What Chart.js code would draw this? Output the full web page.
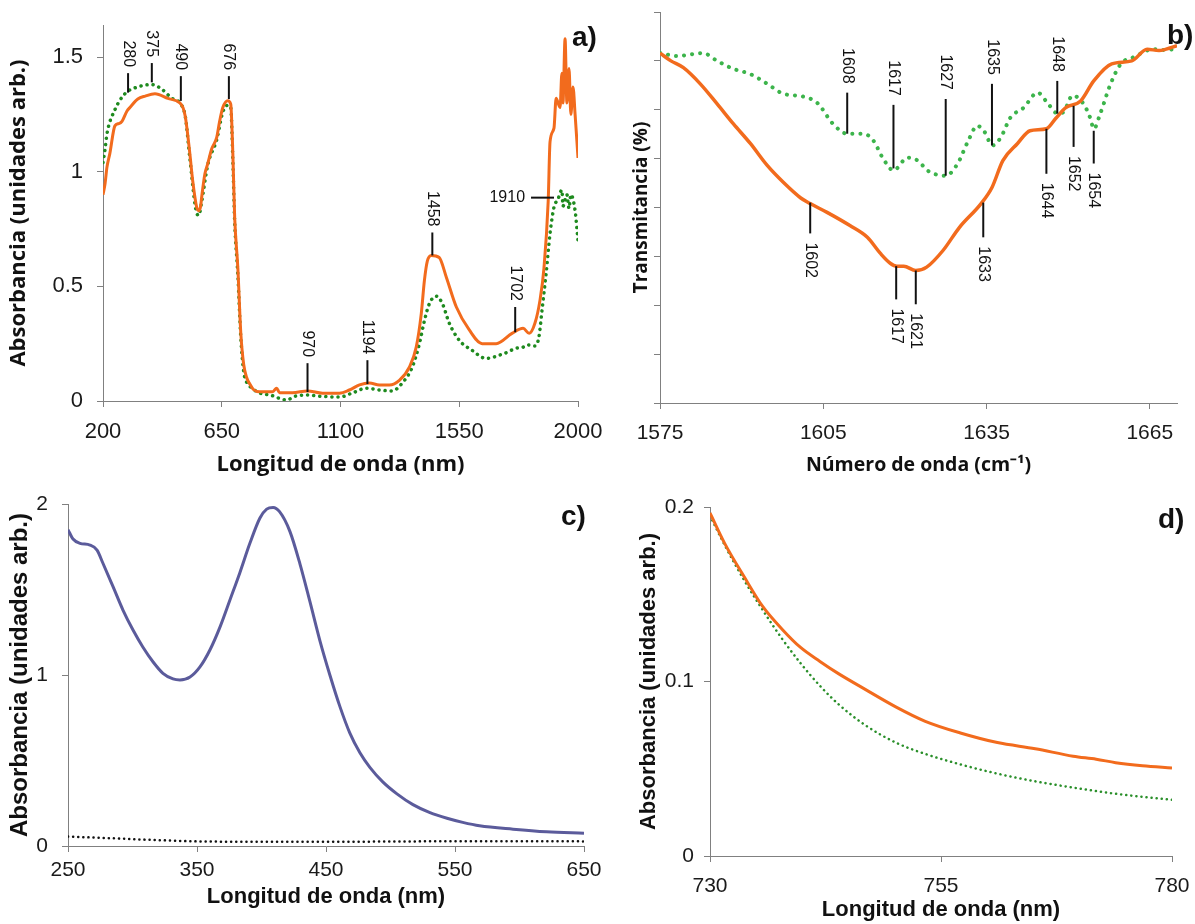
<!DOCTYPE html>
<html>
<head>
<meta charset="utf-8">
<script src="https://cdn.jsdelivr.net/npm/chart.js@4.4.1/dist/chart.umd.min.js"></script>
<style>
  body { margin: 0; background: #fff; width: 1195px; height: 924px; position: relative; overflow: hidden; }
  canvas { position: absolute; }
</style>
</head>
<body>
<canvas id="pa" width="615" height="478" style="left:0;top:0"></canvas>
<canvas id="pb" width="595" height="478" style="left:600px;top:0"></canvas>
<canvas id="pc" width="615" height="444" style="left:0;top:480px"></canvas>
<canvas id="pd" width="595" height="444" style="left:600px;top:480px"></canvas>
<script>
// ---- panel a) UV-Vis-NIR absorbance ----
const aTicksX = [200, 650, 1100, 1550, 2000];
const aTicksY = [0, 0.5, 1, 1.5];
const aOrangeX = [200, 208, 215, 226, 245, 260, 272, 291, 302, 332, 360, 397, 446, 491, 503, 512, 518, 529, 540, 555, 563, 570, 574, 586, 597, 612, 631, 642, 654, 673, 684, 692, 699, 711, 722, 733, 745, 756, 770, 794, 843, 858, 869, 918, 975, 1032, 1096, 1134, 1172, 1210, 1247, 1285, 1323, 1361, 1387, 1406, 1418, 1429, 1444, 1474, 1501, 1539, 1588, 1637, 1648, 1690, 1750, 1792, 1815, 1837, 1856, 1871, 1887, 1894, 1909, 1917, 1932, 1939, 1943, 1951, 1958, 1966, 1973, 1981, 1989, 2000];
const aOrangeY = [0.90, 0.95, 1.02, 1.08, 1.20, 1.21, 1.22, 1.265, 1.28, 1.317, 1.33, 1.34, 1.32, 1.30, 1.28, 1.24, 1.19, 1.08, 0.96, 0.845, 0.83, 0.85, 0.89, 0.99, 1.035, 1.10, 1.15, 1.22, 1.28, 1.31, 1.295, 1.08, 0.80, 0.58, 0.30, 0.16, 0.10, 0.075, 0.05, 0.04, 0.04, 0.056, 0.036, 0.036, 0.044, 0.034, 0.034, 0.048, 0.07, 0.078, 0.07, 0.07, 0.09, 0.148, 0.235, 0.38, 0.526, 0.61, 0.635, 0.626, 0.54, 0.41, 0.31, 0.25, 0.25, 0.25, 0.295, 0.317, 0.295, 0.34, 0.44, 0.58, 0.87, 1.13, 1.19, 1.32, 1.28, 1.43, 1.30, 1.58, 1.30, 1.45, 1.25, 1.37, 1.25, 1.06];
const aGreenX = [200, 208, 215, 245, 283, 332, 385, 423, 461, 491, 512, 529, 555, 563, 574, 597, 631, 654, 673, 684, 692, 699, 711, 722, 733, 745, 760, 794, 832, 858, 870, 900, 920, 971, 1032, 1096, 1145, 1198, 1247, 1296, 1334, 1372, 1399, 1418, 1437, 1463, 1486, 1512, 1550, 1600, 1650, 1720, 1766, 1792, 1807, 1837, 1852, 1864, 1879, 1894, 1909, 1924, 1939, 1943, 1958, 1966, 1973, 1989, 2000];
const aGreenY = [1.04, 1.10, 1.165, 1.27, 1.34, 1.37, 1.38, 1.36, 1.32, 1.30, 1.24, 1.06, 0.82, 0.81, 0.87, 1.03, 1.14, 1.26, 1.29, 1.28, 1.05, 0.78, 0.55, 0.28, 0.13, 0.08, 0.06, 0.035, 0.026, 0.017, 0.01, 0.005, 0.018, 0.026, 0.02, 0.017, 0.035, 0.056, 0.048, 0.044, 0.078, 0.148, 0.25, 0.35, 0.425, 0.457, 0.425, 0.34, 0.265, 0.22, 0.186, 0.207, 0.23, 0.235, 0.245, 0.24, 0.28, 0.40, 0.555, 0.73, 0.845, 0.88, 0.92, 0.85, 0.90, 0.84, 0.90, 0.83, 0.70];
const aPeaks = [
  { t: '280', x: 295, y1: 1.43, y2: 1.345, up: true },
  { t: '375', x: 385, y1: 1.474, y2: 1.39, up: true },
  { t: '490', x: 495, y1: 1.417, y2: 1.309, up: true },
  { t: '676', x: 677, y1: 1.417, y2: 1.317, up: true },
  { t: '970', x: 975, y1: 0.165, y2: 0.039, up: true },
  { t: '1194', x: 1202, y1: 0.178, y2: 0.074, up: true },
  { t: '1458', x: 1448, y1: 0.735, y2: 0.635, up: true },
  { t: '1702', x: 1762, y1: 0.41, y2: 0.30, up: true },
  { t: '1910', flat: true, x1: 1822, x2: 1909, y1: 0.887 }
];

// ---- panel b) FTIR transmittance ----
const bTicksX = [1575, 1605, 1635, 1665];
const bTicksY = [0, 1, 2, 3, 4, 5, 6, 7, 8];
const bOrangeX = [1575, 1577, 1579.3, 1582.4, 1585.5, 1588.5, 1591.6, 1594.7, 1597.7, 1600.8, 1602.6, 1605.7, 1609.9, 1613.1, 1615.5, 1617.3, 1618.5, 1619.8, 1622, 1624, 1627, 1630, 1634, 1636, 1638, 1640.7, 1643, 1646, 1647.7, 1649.5, 1652.3, 1654.7, 1658, 1661.7, 1664.5, 1666.7, 1668, 1670];
const bOrangeY = [7.16, 7.0, 6.86, 6.53, 6.12, 5.71, 5.31, 4.86, 4.51, 4.20, 4.08, 3.90, 3.63, 3.39, 3.06, 2.86, 2.80, 2.80, 2.71, 2.78, 3.12, 3.59, 4.08, 4.41, 4.96, 5.31, 5.57, 5.61, 5.82, 6.04, 6.18, 6.59, 6.94, 7.0, 7.24, 7.21, 7.24, 7.31];
const bGreenX = [1575, 1578.1, 1582.9, 1585.5, 1588.4, 1591.6, 1594.7, 1597.6, 1601.3, 1603.9, 1606.8, 1609.4, 1612.4, 1614.2, 1616.0, 1617.9, 1620.5, 1622.5, 1624.1, 1627.5, 1629.7, 1631.5, 1633.3, 1634.5, 1636.1, 1637.6, 1639.4, 1641.8, 1644.4, 1646.2, 1648.1, 1649.2, 1650.8, 1652.7, 1654.1, 1654.7, 1655.9, 1657.8, 1659.7, 1662.1, 1665.7, 1668.3, 1670];
const bGreenY = [7.16, 7.10, 7.16, 7.0, 6.84, 6.73, 6.53, 6.33, 6.27, 6.14, 5.71, 5.51, 5.51, 5.37, 5.0, 4.76, 5.02, 4.95, 4.76, 4.65, 4.9, 5.33, 5.67, 5.57, 5.27, 5.43, 5.84, 6.04, 6.35, 6.14, 5.92, 5.96, 6.29, 6.14, 5.82, 5.61, 5.92, 6.53, 6.94, 7.08, 7.24, 7.22, 7.27];
const bPeaks = [
  { t: '1608', x: 1609.4, y1: 6.35, y2: 5.51, up: true },
  { t: '1617', x: 1617.9, y1: 6.10, y2: 4.80, up: true },
  { t: '1627', x: 1627.5, y1: 6.22, y2: 4.65, up: true },
  { t: '1635', x: 1636, y1: 6.53, y2: 5.27, up: true },
  { t: '1648', x: 1648, y1: 6.59, y2: 5.92, up: true },
  { t: '1644', x: 1646, y1: 5.61, y2: 4.69, up: false },
  { t: '1652', x: 1651, y1: 6.08, y2: 5.24, up: false },
  { t: '1654', x: 1654.7, y1: 5.57, y2: 4.90, up: false },
  { t: '1602', x: 1602.6, y1: 4.10, y2: 3.47, up: false },
  { t: '1633', x: 1634.4, y1: 4.10, y2: 3.39, up: false },
  { t: '1617', x: 1618.4, y1: 2.80, y2: 2.12, up: false },
  { t: '1621', x: 1622, y1: 2.71, y2: 2.02, up: false }
];

// ---- panel c) UV-Vis absorbance ----
const cTicksX = [250, 350, 450, 550, 650];
const cTicksY = [0, 1, 2];
const cPurpleX = [250, 253.9, 259.3, 267, 272.5, 277, 285, 292.6, 300.4, 308, 316, 323.6, 331.4, 336.8, 344.6, 352.3, 360, 367.8, 375.6, 383.3, 391, 398.8, 404, 409, 414, 422, 429.8, 437.5, 445.3, 453, 460.8, 468.5, 476.3, 484, 494, 505, 517.4, 530.6, 543.8, 556, 569, 595, 621, 650];
const cPurpleY = [1.85, 1.795, 1.77, 1.76, 1.73, 1.655, 1.515, 1.38, 1.263, 1.164, 1.076, 1.01, 0.977, 0.971, 0.988, 1.047, 1.146, 1.28, 1.44, 1.60, 1.77, 1.918, 1.97, 1.98, 1.955, 1.84, 1.65, 1.43, 1.20, 1.0, 0.815, 0.66, 0.545, 0.46, 0.375, 0.305, 0.242, 0.195, 0.162, 0.138, 0.118, 0.098, 0.083, 0.075];
const cBlackX = [250, 275, 300, 325, 350, 400, 450, 500, 550, 600, 650];
const cBlackY = [0.055, 0.048, 0.04, 0.033, 0.027, 0.025, 0.025, 0.026, 0.028, 0.028, 0.027];

// ---- panel d) absorbance 730-780 nm ----
const dTicksX = [730, 755, 780];
const dTicksY = [0, 0.1, 0.2];
const dOrangeX = [730, 731.6, 733.7, 735.7, 737.8, 739.8, 741.9, 743.9, 746.8, 750.1, 753.3, 757.1, 761.1, 765.2, 769.3, 771.8, 773.9, 776.8, 780];
const dOrangeY = [0.1966, 0.179, 0.16, 0.143, 0.13, 0.1195, 0.1115, 0.1045, 0.0955, 0.0855, 0.0772, 0.0705, 0.065, 0.0615, 0.0572, 0.0555, 0.0535, 0.0517, 0.0504];
const dGreenX = [730, 731.6, 733.7, 735.7, 737.8, 739.8, 741.9, 743.9, 746.8, 750.1, 753.3, 757.1, 761.1, 765.2, 769.3, 773.4, 777.5, 780];
const dGreenY = [0.195, 0.178, 0.158, 0.141, 0.1245, 0.1105, 0.0975, 0.087, 0.075, 0.065, 0.0585, 0.0525, 0.0472, 0.0428, 0.0392, 0.036, 0.0335, 0.0322];

const ORANGE = '#f26b1d';
const SANS = '"Liberation Sans", Arial, sans-serif';

const pts = (xs, ys) => xs.map((x, i) => ({ x, y: ys[i] }));

// peak markers + panel tag, drawn through the chart's own scales
function peakPlugin(peaks, o) {
  return {
    id: 'peaks',
    afterDatasetsDraw(chart) {
      const { ctx } = chart;
      const x = chart.scales.x, y = chart.scales.y;
      ctx.save();
      ctx.strokeStyle = '#111';
      ctx.fillStyle = '#111';
      ctx.lineWidth = 2;
      ctx.font = '16px ' + SANS;
      ctx.textBaseline = 'middle';
      peaks.forEach(p => {
        if (p.flat) {
          const py = y.getPixelForValue(p.y1);
          const x1 = x.getPixelForValue(p.x1), x2 = x.getPixelForValue(p.x2);
          ctx.beginPath(); ctx.moveTo(x1, py); ctx.lineTo(x2, py); ctx.stroke();
          ctx.textAlign = 'right';
          ctx.fillText(p.t, x1 - 6, py);
          return;
        }
        const px = x.getPixelForValue(p.x);
        const top = y.getPixelForValue(p.y1), bot = y.getPixelForValue(p.y2);
        ctx.beginPath(); ctx.moveTo(px, top); ctx.lineTo(px, bot); ctx.stroke();
        ctx.save();
        if (p.up) {
          ctx.translate(px, top - o.gapUp);
          ctx.textAlign = 'right';
        } else {
          ctx.translate(px, bot + o.gapDown);
          ctx.textAlign = 'left';
        }
        ctx.rotate(Math.PI / 2);
        ctx.fillText(p.t, 0, 0);
        ctx.restore();
      });
      ctx.font = 'bold 28px ' + SANS;
      ctx.textAlign = 'left';
      ctx.fillText(o.tag, o.tagX, o.tagY);
      ctx.restore();
    }
  };
}

function zeroPad(s) {
  s.paddingLeft = 0; s.paddingRight = 0; s.paddingTop = 0; s.paddingBottom = 0;
}

function panel(id, c) {
  const axisColor = '#808080';
  return new Chart(document.getElementById(id), {
    type: 'line',
    data: { datasets: c.datasets },
    options: {
      responsive: false,
      animation: false,
      devicePixelRatio: 1,
      layout: { padding: c.pad },
      plugins: { legend: { display: false }, tooltip: { enabled: false } },
      elements: { point: { radius: 0 } },
      scales: {
        x: {
          type: 'linear', min: c.xMin, max: c.xMax,
          afterBuildTicks: s => { s.ticks = c.xTicks.map(v => ({ value: v })); },
          afterFit: s => { s.height = c.xH; zeroPad(s); },
          grid: { drawOnChartArea: false, drawTicks: true, tickLength: 6, color: axisColor },
          border: { color: axisColor, width: 1 },
          ticks: { font: { family: SANS, size: c.tickSize || 22 }, color: '#1a1a1a', padding: c.xTickPad || 12, maxRotation: 0, autoSkip: false, callback: v => String(v) },
          title: { display: true, text: c.xTitle, color: '#111', font: c.xFont, padding: { top: 0, bottom: c.xTitlePad } }
        },
        y: {
          type: 'linear', min: c.yMin, max: c.yMax,
          afterBuildTicks: s => { s.ticks = c.yTicks.map(v => ({ value: v })); },
          afterFit: s => { s.width = c.yW; zeroPad(s); },
          grid: { drawOnChartArea: false, drawTicks: true, tickLength: 6, color: axisColor },
          border: { color: axisColor, width: 1 },
          ticks: { font: { family: SANS, size: c.tickSize || 22 }, color: '#1a1a1a', padding: c.yTickPad, callback: c.hideY ? () => '' : v => String(v) },
          title: { display: true, text: c.yTitle, color: '#111', font: c.yFont, padding: { top: c.yTitlePad, bottom: 0 } }
        }
      }
    },
    plugins: [peakPlugin(c.peaks, { gapUp: c.gapUp || 6, gapDown: c.gapDown || 9, tag: c.tag, tagX: c.tagX, tagY: c.tagY })]
  });
}

const line = (xs, ys, color, extra) => Object.assign({
  data: pts(xs, ys), borderColor: color, borderWidth: 3, fill: false, pointRadius: 0,
  cubicInterpolationMode: 'monotone'
}, extra || {});
const dotted = (gap, w) => ({ borderDash: [0.1, gap], borderCapStyle: 'round', borderWidth: w });

panel('pa', {
  datasets: [
    line(aOrangeX, aOrangeY, ORANGE, { borderWidth: 3 }),
    line(aGreenX, aGreenY, '#1e8a1e', dotted(6, 3.5))
  ],
  xMin: 200, xMax: 2000, xTicks: aTicksX,
  yMin: 0, yMax: 1.64, yTicks: aTicksY,
  pad: { left: 0, top: 25, right: 37, bottom: 0 }, yW: 103, xH: 77,
  xTitle: 'Longitud de onda (nm)', xFont: { family: '"Open Sans"', weight: 'bold', size: 22 }, xTitlePad: 0,
  yTitle: 'Absorbancia (unidades arb.)', yFont: { family: '"Open Sans"', weight: 'bold', size: 22 }, yTitlePad: 6,
  yTickPad: 14, peaks: aPeaks, gapUp: 6, tag: 'a)', tagX: 572, tagY: 38
});

panel('pb', {
  datasets: [
    line(bOrangeX, bOrangeY, ORANGE, { borderWidth: 3.5 }),
    line(bGreenX, bGreenY, '#3cb44b', dotted(8, 4))
  ],
  xMin: 1575, xMax: 1670, xTicks: bTicksX,
  yMin: 0, yMax: 8, yTicks: bTicksY, hideY: true,
  pad: { left: 0, top: 12, right: 18, bottom: 0 }, yW: 60, xH: 75,
  xTitle: 'Número de onda (cm⁻¹)', xFont: { family: '"Open Sans"', weight: 'bold', size: 19.5 }, xTitlePad: 1,
  yTitle: 'Transmitancia (%)', yFont: { family: '"Open Sans"', weight: 'bold', size: 19 }, yTitlePad: 30,
  yTickPad: 4, tickSize: 21, peaks: bPeaks, gapUp: 9, gapDown: 9, tag: 'b)', tagX: 567, tagY: 36
});

panel('pc', {
  datasets: [
    line(cPurpleX, cPurpleY, '#5b5b9b', { borderWidth: 3 }),
    line(cBlackX, cBlackY, '#111', dotted(5, 2.5))
  ],
  xMin: 250, xMax: 650, xTicks: cTicksX,
  yMin: 0, yMax: 2, yTicks: cTicksY,
  pad: { left: 0, top: 24, right: 31, bottom: 0 }, yW: 68, xH: 78,
  xTitle: 'Longitud de onda (nm)', xFont: { family: SANS, weight: 'bold', size: 22 }, xTitlePad: 14,
  yTitle: 'Absorbancia (unidades arb.)', yFont: { family: SANS, weight: 'bold', size: 24 }, yTitlePad: 6,
  yTickPad: 14, tickSize: 21, xTickPad: 6, peaks: [], tag: 'c)', tagX: 561, tagY: 37
});

panel('pd', {
  datasets: [
    line(dOrangeX, dOrangeY, ORANGE, { borderWidth: 3 }),
    line(dGreenX, dGreenY, '#2a8f2a', dotted(5, 2.5))
  ],
  xMin: 730, xMax: 780, xTicks: dTicksX,
  yMin: 0, yMax: 0.2, yTicks: dTicksY,
  pad: { left: 0, top: 27, right: 23, bottom: 0 }, yW: 110, xH: 68,
  xTitle: 'Longitud de onda (nm)', xFont: { family: SANS, weight: 'bold', size: 22 }, xTitlePad: 1,
  yTitle: 'Absorbancia (unidades arb.)', yFont: { family: SANS, weight: 'bold', size: 22 }, yTitlePad: 36,
  yTickPad: 10, tickSize: 21, peaks: [], tag: 'd)', tagX: 558, tagY: 40
});
</script>
</body>
</html>
